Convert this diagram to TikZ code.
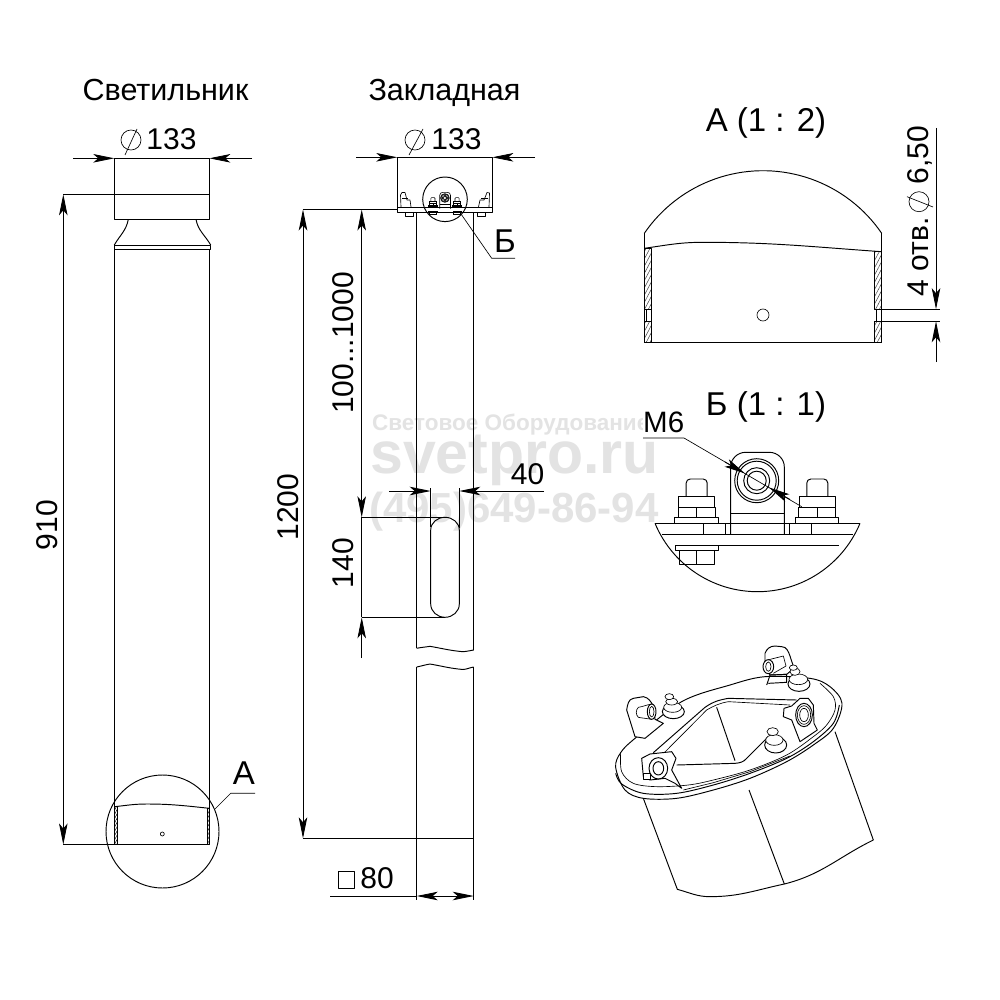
\documentclass[tikz,border=0pt]{standalone}
\usepackage{fontspec}
\setmainfont{Liberation Sans}
\usetikzlibrary{arrows.meta,patterns.meta}
\newcommand{\txt}[1]{\fontsize{#1}{#1}\selectfont}
\tikzset{
  part/.style={line width=.95pt,line join=round},
  thin part/.style={line width=.65pt,line join=round},
  dimline/.style={line width=.85pt},
  tipA/.style={-{Stealth[length=21pt,width=8.5pt,inset=5pt]}},
  tipB/.style={{Stealth[length=21pt,width=8.5pt,inset=5pt]}-{Stealth[length=21pt,width=8.5pt,inset=5pt]}},
  dimtext/.style={inner sep=0pt,font=\txt{30}},
  headtext/.style={inner sep=0pt,font=\txt{30.5},anchor=base},
  bigmark/.style={inner sep=0pt,font=\txt{33}},
  water/.style={inner sep=0pt,text=black!11},
  hatch/.style={pattern={Lines[angle=62,distance=3.4pt,line width=.5pt]},pattern color=black!75},
  hatchs/.style={pattern={Lines[angle=62,distance=2pt,line width=.5pt]},pattern color=black},
  wh/.style={fill=white},
}
% diameter symbol
\newcommand{\dia}[6]{\draw[thin part] (#1,#2) circle (10); \draw[thin part] (#3,#4) -- (#5,#6);}
% bolt stack in detail coordinates (centre x)
\newcommand{\boltstack}[2]{%
  \draw[#2] (#1-22,523.3) rectangle (#1+21.5,517.7);
  \draw[#2] (#1-18.5,517.7) rectangle (#1+18.5,507.3);
  \draw[#2] (#1,517.7) -- (#1,507.3);
  \draw[#2] (#1-18,507.3) rectangle (#1+18,496.7);
  \draw[#2] (#1-10.5,496.7) -- (#1-10.5,483) to[out=90,in=180] (#1-6.5,479) -- (#1+6.5,479) to[out=0,in=90] (#1+10.5,483) -- (#1+10.5,496.7);
}
\newcommand{\lugdetail}[1]{%
  \draw[#1] (730.7,534.3) -- (730.7,467) to[out=90,in=180] (745.7,452.3) -- (769.3,452.3) to[out=0,in=90] (784.3,467) -- (784.3,534.3);
  \draw[#1] (730.7,513.3) -- (784.3,513.3);
  \draw[#1,wh] (756.7,480.7) circle (22);
  \draw[#1] (756.7,480.7) circle (19.5);
  \draw[#1] (756.7,480.7) circle (13);
  \draw[#1] (756.7,480.7) circle (9.5);
}
\begin{document}
\begin{tikzpicture}[x=1pt,y=-1pt]
\useasboundingbox (0,0) rectangle (1000,1000);
\fill[white] (0,0) rectangle (1000,1000);

% watermark
\node[water,font=\txt{22.5}\bfseries,anchor=base west] (wm1) at (372,430) {Световое Оборудование};
\node[water,font=\txt{59}\bfseries,anchor=base west] (wm2) at (370,473) {svetpro.ru};
\node[water,font=\txt{42}\bfseries,anchor=base west] (wm3) at (369,522) {(495)649-86-94};
\fill[white] (643,405) rectangle (690,437);

% ---------- titles
\node[headtext] (t1) at (165.5,100.5) {Светильник};
\node[headtext] (t2) at (444.5,100.5) {Закладная};

% ---------- lamp
\draw[part] (114.3,158.3) rectangle (209.3,219.3);
\draw[part] (63.3,194.3) -- (209.3,194.3);
\draw[part] (128.3,219.3) to[out=260,in=60] (114.3,245);
\draw[part] (196,219.3) to[out=280,in=120] (210.7,245);
\draw[part] (114.3,245) -- (210.7,245) -- (210.7,249) -- (114.3,249) -- cycle;
\draw[part] (114.3,249) -- (114.3,844.3);
\draw[part] (209.3,249) -- (209.3,844.3);
\draw[part] (63.3,844.5) -- (209.3,844.5);
\draw[dimline,tipA] (73,158.3) -- (114.3,158.3);
\draw[dimline,tipA] (252,158.3) -- (209.3,158.3);
\draw[dimline,tipB] (63.3,194.3) -- (63.3,844.5);
\dia{131}{140}{125}{155}{137}{129}
\node[dimtext] (d1) at (171.5,139) {133};
\node[dimtext,rotate=90] (h910) at (47,525) {910};
% lamp bottom detail
\draw[part] (162.5,831.5) circle (56.5);
\draw[part] (114.3,806.7) to[out=6,in=180] (146.7,804) to[out=0,in=174] (209.3,808.3);
\draw[thin part,hatchs] (114.3,806.7) rectangle (117.7,844.3);
\draw[thin part,hatchs] (207.3,808.3) rectangle (209.3,844.3);
\draw[thin part] (162.3,834) circle (2);
\draw[thin part] (215,809) -- (230.7,793.3) -- (255,793.3);
\node[bigmark] (la) at (244,773) {А};

% ---------- embedded part
\draw[part] (397.3,157.3) -- (397.3,212.3) -- (492.3,212.3) -- (492.3,157.3) -- cycle;
\draw[part] (397.3,207.3) -- (492.3,207.3);
\draw[part] (303,209.5) -- (397.3,209.5);
\draw[part] (416.7,212.3) -- (416.7,648.3);
\draw[part] (473.7,212.3) -- (473.7,650);
\draw[part] (416.7,648.3) to[out=12,in=190] (430,646.3) to[out=-10,in=175] (463,651.7) to[out=5,in=190] (473.7,650);
\draw[part] (416.7,667) to[out=12,in=190] (430,664) to[out=-10,in=175] (463,669.5) to[out=5,in=190] (473.7,667);
\draw[part] (416.7,667) -- (416.7,900);
\draw[part] (473.7,667) -- (473.7,900);
\draw[part] (303,838.3) -- (473.7,838.3);
% slot
\draw[part] (430.7,530) -- (430.7,604) to[out=-90,in=180] (445,617.3) to[out=0,in=-90] (459.3,604) -- (459.3,530) to[out=90,in=0] (445,517.3) to[out=180,in=90] (430.7,530);
\draw[thin part] (361.7,517.3) -- (445,517.3);
\draw[thin part] (361.7,617.3) -- (445,617.3);
\draw[thin part] (430.7,488) -- (430.7,527);
\draw[thin part] (459.3,488) -- (459.3,528);
% dims
\draw[dimline,tipA] (356,157.3) -- (397.3,157.3);
\draw[dimline,tipA] (535,157.3) -- (492.3,157.3);
\dia{415}{140}{409}{155}{423}{129}
\node[dimtext] (d2) at (456.5,139) {133};
\draw[dimline,tipB] (361.7,209.5) -- (361.7,517.3);
\draw[dimline,tipA] (361.7,658) -- (361.7,617.3);
\draw[dimline] (361.7,517.3) -- (361.7,617.3);
\draw[dimline,tipB] (303,209.5) -- (303,838.3);
\draw[dimline,tipA] (389,491) -- (430.7,491);
\draw[dimline,tipA] (544,491) -- (459.3,491);
\draw[dimline,tipB] (416.7,896) -- (473.7,896);
\draw[dimline] (330,896) -- (416.7,896);
\node[dimtext,rotate=90] (h1200) at (288,507) {1200};
\node[dimtext,rotate=90] (h100) at (343,343) {100...1000};
\node[dimtext,rotate=90] (h140) at (343,563) {140};
\node[dimtext] (w40) at (527.5,474) {40};
\draw[thin part] (338.3,871.7) rectangle (354.3,888);
\node[dimtext] (w80) at (377,878) {80};
% mini detail
\begin{scope}[shift={(445-757*0.2,198-480.7*0.2)},scale=.2]
  \boltstack{696.7}{line width=.6pt}
  \boltstack{817.3}{line width=.6pt}
  \lugdetail{line width=.6pt}
  \draw[line width=.6pt] (675,545) rectangle (718.3,550);
  \draw[line width=.6pt] (679.3,550) rectangle (714.3,564);
  \draw[line width=.6pt] (796,545) rectangle (840,550);
  \draw[line width=.6pt] (800,550) rectangle (835,564);
\end{scope}
% mini end lugs
\draw[thin part] (401,207) -- (400.5,195) -- (402,192.5) -- (405,192.5) -- (407,200) -- (410,200) -- (411,207);
\draw[thin part] (402,198) -- (408,198);
\draw[thin part] (405,212.3) rectangle (413,216);
\draw[thin part] (489,207) -- (489.5,193) -- (487,192.5) -- (484,200) -- (480,200) -- (478.5,207);
\draw[thin part] (481,198) -- (488,198);
\draw[thin part] (477,212.3) rectangle (485,216);
\draw[part] (445,199.3) circle (22.3);
\draw[thin part] (461.7,215) -- (491.7,258.3) -- (515,258.3);
\node[bigmark] (lb) at (505,241) {Б};

% ---------- view A
\node[bigmark,anchor=base] (ta) at (766,132) {А (1 : 2)};
\draw[part] plot[domain=145.6:34.4,samples=50] ({763+143.8*cos(\x)},{314.5-143.8*sin(\x)});
\draw[part] (644.3,233.3) -- (644.3,342.3) -- (881.7,342.3) -- (881.7,233.3);
\draw[part] (644.3,248.3) to[out=8,in=180] (703,242.3) to[out=0,in=176] (881.7,251.7);
\draw[thin part,hatch] (644.3,248.3) rectangle (651.7,309);
\draw[thin part,hatch] (644.3,321.5) rectangle (651.7,342.3);
\draw[thin part,hatch] (874.3,251.7) rectangle (881.7,309);
\draw[thin part,hatch] (874.3,321.5) rectangle (881.7,342.3);
\draw[thin part] (646,309) rectangle (651,321.5);
\draw[thin part] (876,309) rectangle (881,321.5);
\draw[thin part] (763,315) circle (6);
\draw[thin part] (876,309.2) -- (940,309.2);
\draw[thin part] (876,321.3) -- (940,321.3);
\draw[dimline,tipA] (936,128) -- (936,309.2);
\draw[dimline,tipA] (936,362) -- (936,321.3);
\node[dimtext,rotate=90,anchor=base] (t4) at (928,257) {4 отв.};
\node[dimtext,rotate=90,anchor=base] (t65) at (928,155) {6,50};
\dia{919}{201.7}{907}{196.7}{933}{207}

% ---------- view B
\node[bigmark,anchor=base] (tb) at (766,415) {Б (1 : 1)};
\draw[part] (655,523.3) -- (860,523.3);
\draw[part] plot[domain=157.4:22.6,samples=60] ({757.5+111*cos(\x)},{480.7+111*sin(\x)});
\draw[part] (662,534.3) -- (853,534.3);
\draw[part] (676,545) -- (839,545);
\boltstack{696.7}{part}
\boltstack{817.3}{part}
\draw[part] (703,523.3) -- (703,534.3);
\draw[part] (725.7,523.3) -- (725.7,534.3);
\draw[part] (789.3,523.3) -- (789.3,534.3);
\draw[part] (811.7,523.3) -- (811.7,534.3);
\lugdetail{part}
\draw[part] (675,545) rectangle (718.3,550);
\draw[part] (679.3,550) rectangle (714.3,564);
\draw[part] (696.7,550) -- (696.7,564);
\node[bigmark,font=\txt{29.5},anchor=base west] (m6) at (643,432) {М6};
\draw[thin part] (643,438) -- (684,438) -- (801.7,506.7);
\draw[dimline,tipA] (725,462) -- (745,473.5);
\draw[dimline,tipA] (790,499.5) -- (769,487.5);

% ---------- isometric view
\begin{scope}[shift={(600,630)},scale=1/3]
  % body
  \draw[part] (130,505) -- (232,778) to[out=-15,in=180] (330,800) to[out=0,in=192] (553,762) to[out=14,in=206] (820,630) -- (705,305);
  \draw[part] (447,480) -- (553,762);
  % flange
  \draw[part,wh] plot[smooth cycle,tension=.55] coordinates {(47,412) (62,368) (105,325) (245,215) (390,165) (495,140) (630,145) (690,170) (726,220) (700,295) (640,345) (560,395) (450,445) (340,480) (230,505) (130,505) (75,480)};
  \draw[part] plot[smooth,tension=.55] coordinates {(47,430) (65,462) (130,490) (230,490) (340,465) (450,430) (560,385) (640,335) (700,280) (718,225)};
  \draw[thin part] plot[smooth,tension=.55] coordinates {(62,368) (65,425) (100,460) (170,470) (265,465) (340,450) (450,420) (560,375) (640,320) (680,285) (705,240) (700,200) (660,160)};
  \draw[thin part] (250,480) -- (340,458) -- (450,425) -- (570,378);
  % plate
  \draw[part] (160,368) -- (315,232) to[out=35,in=190] (385,205) -- (590,210);
  \draw[thin part] (185,376) -- (320,240) to[out=30,in=190] (385,215) -- (570,225);
  \draw[part] (230,405) -- (405,400) to[out=5,in=230] (440,385) -- (505,320);
  \draw[part] (350,232) -- (405,392);
  % back-left lug
  \draw[part,wh] (105,320) -- (80,240) to[out=80,in=190] (100,205) -- (130,200) to[out=-10,in=120] (160,228) -- (165,268) -- (190,280) -- (135,325) -- cycle;
  \draw[thin part,wh] (115,232) to[out=10,in=190] (155,222) -- (155,268) to[out=170,in=-10] (115,262) to[out=135,in=225] (115,232);
  \draw[part,wh] (155,245) ellipse[x radius=13,y radius=23];
  \draw[thin part] (155,245) ellipse[x radius=7,y radius=16];
  % back-left nut
  \draw[part,wh] (220,245) ellipse[x radius=33,y radius=21];
  \draw[thin part,wh] (218,232) ellipse[x radius=27,y radius=15];
  \draw[thin part,wh] (215,215) ellipse[x radius=18,y radius=10];
  \draw[thin part,wh] (208,200) ellipse[x radius=13,y radius=9];
  % back lug
  \draw[part,wh] (510,135) -- (495,105) -- (495,70) to[out=70,in=180] (525,48) -- (545,50) to[out=0,in=110] (570,78) -- (582,115) -- (560,133) -- cycle;
  \draw[thin part,wh] (495,92) -- (550,78) -- (558,108) -- (520,130);
  \draw[part,wh] (505,110) ellipse[x radius=16,y radius=21];
  \draw[thin part] (505,110) ellipse[x radius=8,y radius=14];
  \draw[part] (500,165) -- (510,135) -- (560,133) -- (560,157) -- (505,160);
  % back nut
  \draw[part,wh] (597,162) ellipse[x radius=33,y radius=22];
  \draw[thin part,wh] (595,148) ellipse[x radius=28,y radius=16];
  \draw[thin part,wh] (585,125) ellipse[x radius=15,y radius=11];
  \draw[thin part,wh] (580,113) ellipse[x radius=12,y radius=8];
  % right lug
  \draw[part,wh] (575,228) -- (600,205) -- (625,205) -- (640,225) -- (642,280) -- (652,300) -- (600,335) -- (575,270) -- (550,260) -- (552,235) -- cycle;
  \draw[part,wh] (612,255) ellipse[x radius=25,y radius=35];
  \draw[thin part] (612,255) ellipse[x radius=20,y radius=28];
  \draw[thin part] (612,255) ellipse[x radius=13,y radius=20];
  % front nut
  \draw[part,wh] (527,345) ellipse[x radius=33,y radius=24];
  \draw[thin part,wh] (523,330) ellipse[x radius=26,y radius=16];
  \draw[thin part,wh] (518,305) ellipse[x radius=17,y radius=12];
  % front lug
  \draw[part,wh] (125,385) -- (150,372) -- (215,365) -- (228,385) -- (215,420) -- (245,475) -- (225,460) -- (195,445) -- (150,450) -- (130,440) -- cycle;
  \draw[part,wh] (130,430) rectangle (150,448);
  \draw[part,wh] (175,415) ellipse[x radius=28,y radius=32];
  \draw[part,wh] (175,415) ellipse[x radius=16,y radius=20];
\end{scope}
\end{tikzpicture}
\end{document}
